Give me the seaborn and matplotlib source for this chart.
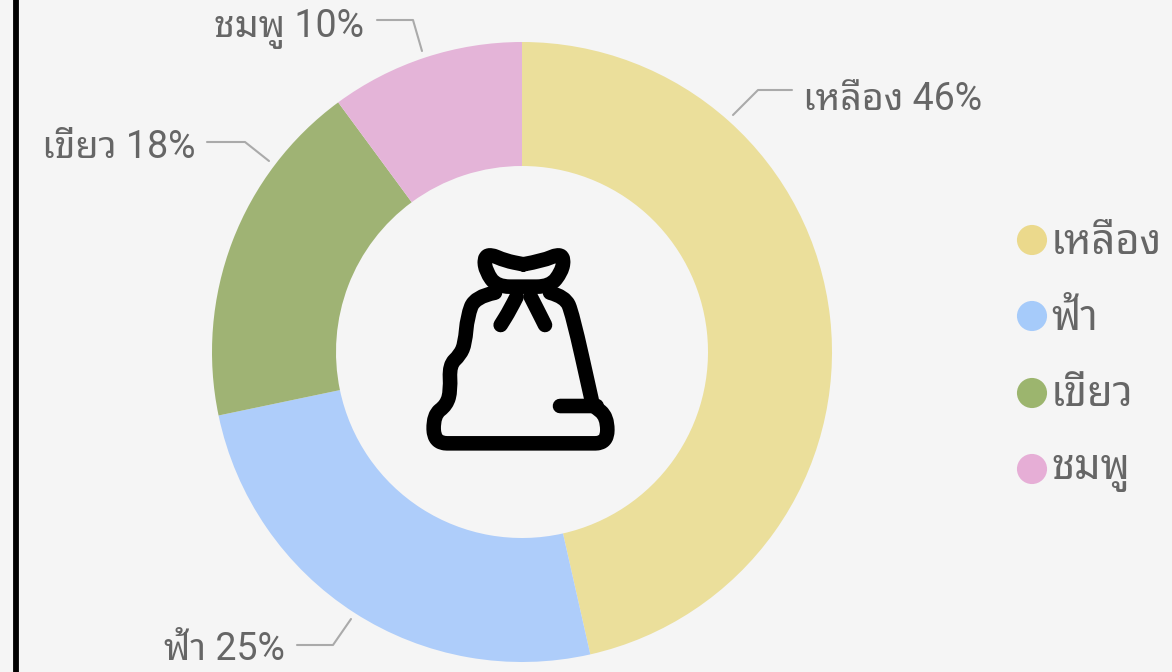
import matplotlib
matplotlib.use('Agg')
import matplotlib.pyplot as plt
import pandas as pd
import seaborn as sns
from matplotlib.patches import PathPatch
from matplotlib.path import Path

# ข้อมูลของกราฟ
categories = ['เหลือง', 'ฟ้า', 'เขียว', 'ชมพู']
values = [46, 25, 18, 10]
colors = ['#ebdf9b', '#aecdfa', '#9fb374', '#e4b4d8']
legend_colors = ['#ebd98c', '#a6cbfa', '#9cb56e', '#e6aed6']

WIDTH, HEIGHT = 1172, 672
BG = '#f5f5f5'
TEXT = '#666666'
LEADER = '#aaaaaa'
FONT_SIZE = 27
LEGEND_FONT_SIZE = 30

sns.set_theme(style='white')
plt.rcParams['font.family'] = ['Roboto', 'Noto Sans Thai Looped', 'DejaVu Sans']


# posicoes em pixels da imagem, y para baixo
def py(y):
    return HEIGHT - y


def smooth(points):
    verts = [points[0]]
    codes = [Path.MOVETO]
    for i in range(1, len(points) - 1):
        mid = ((points[i][0] + points[i + 1][0]) / 2, (points[i][1] + points[i + 1][1]) / 2)
        verts += [points[i], mid]
        codes += [Path.CURVE3, Path.CURVE3]
    verts.append(points[-1])
    codes.append(Path.LINETO)
    return Path([(410 + x / 3, py(230 + y / 3)) for x, y in verts], codes)


fig = plt.figure(figsize=(WIDTH / 100, HEIGHT / 100), dpi=100, facecolor=BG)
ax = fig.add_axes([0, 0, 1, 1])

# donut
ax.pie(values, colors=colors, startangle=90, counterclock=False, center=(522, py(352)),
       radius=310, wedgeprops={'width': 124, 'linewidth': 0})
ax.set_xlim(0, WIDTH)
ax.set_ylim(0, HEIGHT)
ax.axis('off')

# rotulos com as linhas guia
labels = [f'{c} {v}%' for c, v in zip(categories, values)]
label_pos = [(803, 99, 'left'), (285, 650, 'right'), (195, 148, 'right'), (364, 29, 'right')]
leaders = [
    [(733, 115), (758, 90), (792, 90)],
    [(351, 619), (333, 645), (297, 645)],
    [(269, 161), (245, 142), (207, 142)],
    [(422, 51), (413, 20), (377, 20)],
]
for text, (x, y, ha), line in zip(labels, label_pos, leaders):
    ax.text(x, py(y), text, ha=ha, va='center', fontsize=FONT_SIZE, color=TEXT)
    ax.plot([p[0] for p in line], [py(p[1]) for p in line], color=LEADER, lw=1.5)

# legenda
legend_y = [240, 316, 393, 469]
legenda = pd.DataFrame({'x': [1032] * 4, 'y': [py(y) for y in legend_y], 'cat': categories})
sns.scatterplot(data=legenda, x='x', y='y', hue='cat', palette=legend_colors, s=470,
                linewidth=0, legend=False, ax=ax)
for name, y in zip(categories, legend_y):
    ax.text(1051, py(y + 2), name, ha='left', va='center', fontsize=LEGEND_FONT_SIZE, color=TEXT)
ax.set_xlim(0, WIDTH)
ax.set_ylim(0, HEIGHT)
ax.axis('off')

# icone do saco de lixo
icon = [
    [(340, 103), (400, 92), (445, 72), (462, 85), (455, 125), (420, 170), (340, 170),
     (260, 170), (228, 125), (222, 85), (240, 72), (285, 92), (340, 103)],
    [(255, 188), (195, 200), (172, 260), (165, 340), (150, 375), (118, 405), (122, 480),
     (110, 525), (70, 555), (72, 640), (150, 640), (520, 640), (592, 640),
     (592, 560), (552, 528)],
    [(420, 188), (465, 200), (487, 250), (545, 510)],
    [(450, 528), (500, 528), (560, 528)],
    [(320, 200), (300, 240), (272, 285)],
    [(362, 200), (385, 245), (405, 285)],
]
for pts in icon:
    ax.add_patch(PathPatch(smooth(pts), fill=False, edgecolor='black', lw=10.5,
                           capstyle='round', joinstyle='round'))

# borda preta da esquerda
ax.plot([15.5, 15.5], [0, HEIGHT], color='black', lw=4.2)

fig.savefig('out.png', dpi=100, facecolor=BG)
